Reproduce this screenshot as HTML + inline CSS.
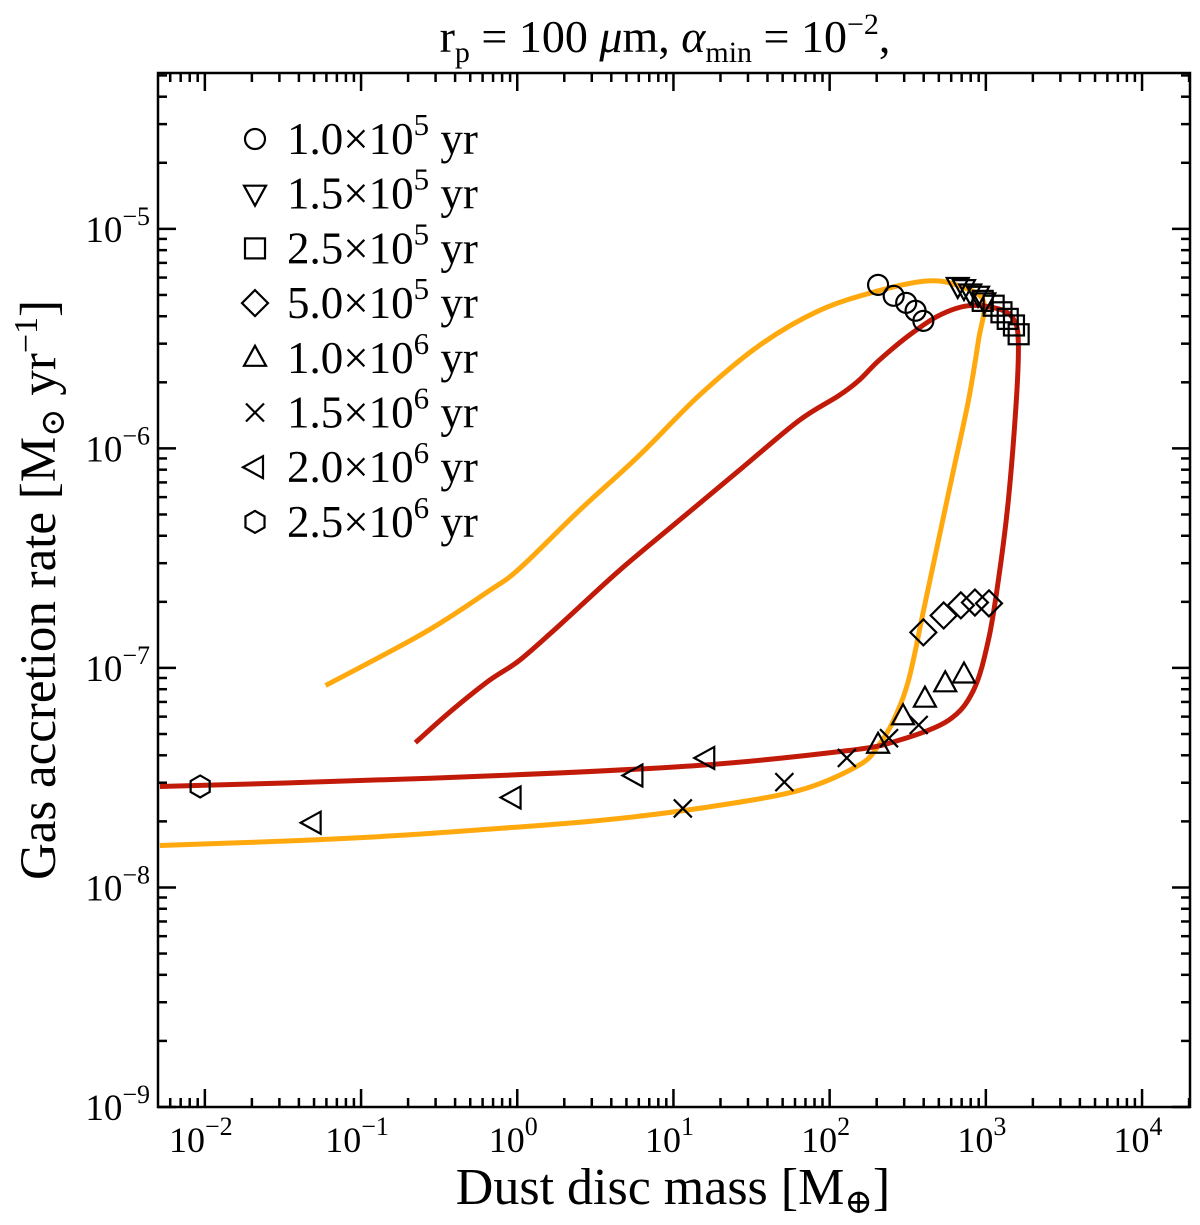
<!DOCTYPE html>
<html><head><meta charset="utf-8"><style>
body{margin:0;background:#fff}
svg{display:block}
text{font-family:"Liberation Serif","DejaVu Serif",serif;fill:#000}
</style></head><body>
<svg id="chart" width="1200" height="1225" viewBox="0 0 1200 1225" xmlns="http://www.w3.org/2000/svg">
<text x="665" y="52" text-anchor="middle" font-size="46">r<tspan font-size="30" dy="10">p</tspan><tspan dy="-10"> = 100 </tspan><tspan font-style="italic">μ</tspan>m, <tspan font-style="italic">α</tspan><tspan font-size="30" dy="10">min</tspan><tspan dy="-10"> = 10</tspan><tspan font-size="30" dy="-18">−2</tspan><tspan dy="18">,</tspan></text>
<text x="673" y="1204" text-anchor="middle" font-size="52">Dust disc mass [M<tspan font-size="34" dy="9">⊕</tspan><tspan dy="-9">]</tspan></text>
<text transform="translate(55,590) rotate(-90)" text-anchor="middle" font-size="51">Gas accretion rate [M<tspan font-size="34" dy="9">⊙</tspan><tspan dy="-9"> yr</tspan><tspan font-size="34" dy="-18">−1</tspan><tspan dy="18">]</tspan></text>
<g id="plot"></g>
</svg>
<script>
// data (log10 values)
const xTickExps = [-2, -1, 0, 1, 2, 3, 4];
const yTickExps = [-9, -8, -7, -6, -5];
const orangeLogMass = [-1.227,-0.594,-0.179,0.013,0.396,0.780,1.163,1.546,1.930,2.313,2.633,2.824,2.984,2.952,2.888,2.792,2.696,2.601,2.505,2.409,2.313,2.185,1.802,1.163,0.524,-0.115,-0.754,-1.393,-2.288];
const orangeLogRate = [-7.080,-6.839,-6.648,-6.548,-6.284,-6.033,-5.760,-5.533,-5.373,-5.282,-5.237,-5.259,-5.328,-5.510,-5.783,-6.101,-6.420,-6.739,-7.057,-7.239,-7.353,-7.444,-7.558,-7.640,-7.695,-7.731,-7.763,-7.786,-7.809];
const redLogMass = [-0.652,-0.435,-0.179,0.013,0.268,0.652,1.035,1.419,1.802,2.058,2.185,2.313,2.505,2.696,2.888,3.080,3.176,3.208,3.195,3.144,3.080,3.016,2.920,2.760,2.441,2.121,1.163,-0.115,-1.393,-2.288];
const redLogRate = [-7.340,-7.203,-7.057,-6.966,-6.807,-6.557,-6.329,-6.101,-5.874,-5.760,-5.692,-5.601,-5.487,-5.396,-5.350,-5.364,-5.410,-5.510,-5.783,-6.238,-6.602,-6.875,-7.103,-7.239,-7.330,-7.376,-7.444,-7.490,-7.522,-7.540];
const legendLabels = ["1.0","1.5","2.5","5.0","1.0","1.5","2.0","2.5"];
const legendExps = ["5","5","5","5","6","6","6","6"];
const markerShapes = ["circle","tri-down","square","diamond","tri-up","cross","tri-left","hexagon"];
const circleMass = [2.31,2.41,2.49,2.55,2.60];
const circleRate = [-5.255,-5.305,-5.337,-5.373,-5.419];
const triDownMass = [2.82,2.86,2.90,2.95,2.99];
const triDownRate = [-5.26,-5.27,-5.29,-5.30,-5.33];
const squareMass = [2.98,3.05,3.10,3.14,3.18,3.21];
const squareRate = [-5.328,-5.35,-5.38,-5.41,-5.44,-5.48];
const diamondMass = [2.60,2.73,2.84,2.93,3.02];
const diamondRate = [-6.838,-6.761,-6.715,-6.702,-6.706];
const triUpMass = [2.31,2.47,2.61,2.74,2.86];
const triUpRate = [-7.35,-7.22,-7.14,-7.07,-7.03];
const crossMass = [1.06,1.71,2.11,2.38,2.57];
const crossRate = [-7.64,-7.52,-7.41,-7.32,-7.26];
const triLeftMass = [-1.31,-0.03,0.75,1.21];
const triLeftRate = [-7.705,-7.59,-7.49,-7.41];
const hexMass = [-2.03];
const hexRate = [-7.54];

const L=158,R=1190,T=73,B=1107;
const xMin=-2.30,xMax=4.307,yMin=-9,yMax=-4.29;
const sx=v=>L+(v-xMin)/(xMax-xMin)*(R-L);
const sy=v=>B-(v-yMin)/(yMax-yMin)*(B-T);
const NS="http://www.w3.org/2000/svg";
const plot=document.getElementById('plot');
function mk(tag,attrs,parent){const e=document.createElementNS(NS,tag);for(const k in attrs)e.setAttribute(k,attrs[k]);(parent||plot).appendChild(e);return e;}

const defs=mk('defs',{});
const cp=mk('clipPath',{id:'clip'},defs);
mk('rect',{x:L,y:T,width:R-L,height:B-T},cp);

const tg=mk('g',{stroke:'#000','stroke-width':2.5});


for(let d=-3;d<=4;d++){for(let m=1;m<10;m++){const v=d+Math.log10(m);if(v<xMin||v>xMax)continue;const x=sx(v);const len=m==1?18:9;
mk('line',{x1:x,y1:B,x2:x,y2:B-len},tg);mk('line',{x1:x,y1:T,x2:x,y2:T+len},tg);}}
for(let d=-9;d<=-5;d++){for(let m=1;m<10;m++){const v=d+Math.log10(m);if(v<yMin||v>yMax)continue;const y=sy(v);const len=m==1?18:9;
mk('line',{x1:L,y1:y,x2:L+len,y2:y},tg);mk('line',{x1:R,y1:y,x2:R-len,y2:y},tg);}}
xTickExps.forEach(e=>{const t=mk('text',{x:sx(e)-4,y:B+45,'text-anchor':'middle','font-size':36});


t.innerHTML='10<tspan font-size="26" dy="-17">'+(e<0?'−'+(-e):e)+'</tspan>';});
yTickExps.forEach(e=>{const t=mk('text',{x:150,y:sy(e)+13,'text-anchor':'end','font-size':37});


t.innerHTML='10<tspan font-size="26" dy="-17">−'+(-e)+'</tspan>';});

function smoothPath(pts){let d='M'+pts[0][0].toFixed(1)+','+pts[0][1].toFixed(1);
for(let i=0;i<pts.length-1;i++){const p0=pts[Math.max(0,i-1)],p1=pts[i],p2=pts[i+1],p3=pts[Math.min(pts.length-1,i+2)];
const c1=[p1[0]+(p2[0]-p0[0])/6,p1[1]+(p2[1]-p0[1])/6],c2=[p2[0]-(p3[0]-p1[0])/6,p2[1]-(p3[1]-p1[1])/6];
d+=' C'+c1.map(v=>v.toFixed(1)).join(',')+' '+c2.map(v=>v.toFixed(1)).join(',')+' '+p2.map(v=>v.toFixed(1)).join(',');}
return d;}
function curve(xs,ys,color,name){const pts=xs.map((v,i)=>[sx(v),sy(ys[i])]);
const p=mk('path',{d:smoothPath(pts),fill:'none',stroke:color,'stroke-width':5,'stroke-linejoin':'round','clip-path':'url(#clip)'});

}
curve(orangeLogMass,orangeLogRate,'#ffa90e','orange-curve');
curve(redLogMass,redLogRate,'#c21a09','red-curve');

function marker(shape,cx,cy,g){const r=10;let e;const a={fill:'none',stroke:'#000','stroke-width':2.2};
if(shape=='circle'){e=mk('circle',Object.assign({cx:cx,cy:cy,r:r},a),g);}
else if(shape=='square'){e=mk('rect',Object.assign({x:cx-r,y:cy-r,width:2*r,height:2*r},a),g);}
else if(shape=='cross'){e=mk('path',Object.assign({d:`M${cx-9},${cy-9}L${cx+9},${cy+9}M${cx-9},${cy+9}L${cx+9},${cy-9}`},a),g);}
else{let pts;
if(shape=='tri-down')pts=[[-11,-8],[11,-8],[0,12]];
if(shape=='tri-up')pts=[[-11,8],[11,8],[0,-12]];
if(shape=='tri-left')pts=[[8,-11],[8,11],[-12,0]];
if(shape=='diamond')pts=[[0,-13],[13,0],[0,13],[-13,0]];
if(shape=='hexagon')pts=[0,1,2,3,4,5].map(k=>[11*Math.cos(Math.PI/6+k*Math.PI/3),11*Math.sin(Math.PI/6+k*Math.PI/3)]);
e=mk('polygon',Object.assign({points:pts.map(p=>(cx+p[0])+','+(cy+p[1])).join(' ')},a),g);}
return e;}
const sets=[[circleMass,circleRate],[triDownMass,triDownRate],[squareMass,squareRate],[diamondMass,diamondRate],[triUpMass,triUpRate],[crossMass,crossRate],[triLeftMass,triLeftRate],[hexMass,hexRate]];
sets.forEach((s,i)=>{const g=mk('g',{});


s[0].forEach((v,j)=>{const m=marker(markerShapes[i],sx(v),sy(s[1][j]),g);

});});

const lg=mk('g',{});


legendLabels.forEach((lab,i)=>{const y=139+i*54.7;const row=mk('g',{},lg);


marker(markerShapes[i],255,y,row);
const t=mk('text',{x:287,y:y+15,'font-size':45},row);
t.innerHTML=lab+'×10<tspan font-size="31" dy="-19">'+legendExps[i]+'</tspan><tspan dy="19"> yr</tspan>';});

const fr=mk('rect',{x:L,y:T,width:R-L,height:B-T,fill:'none',stroke:'#000','stroke-width':2.5});


</script>
</body></html>
